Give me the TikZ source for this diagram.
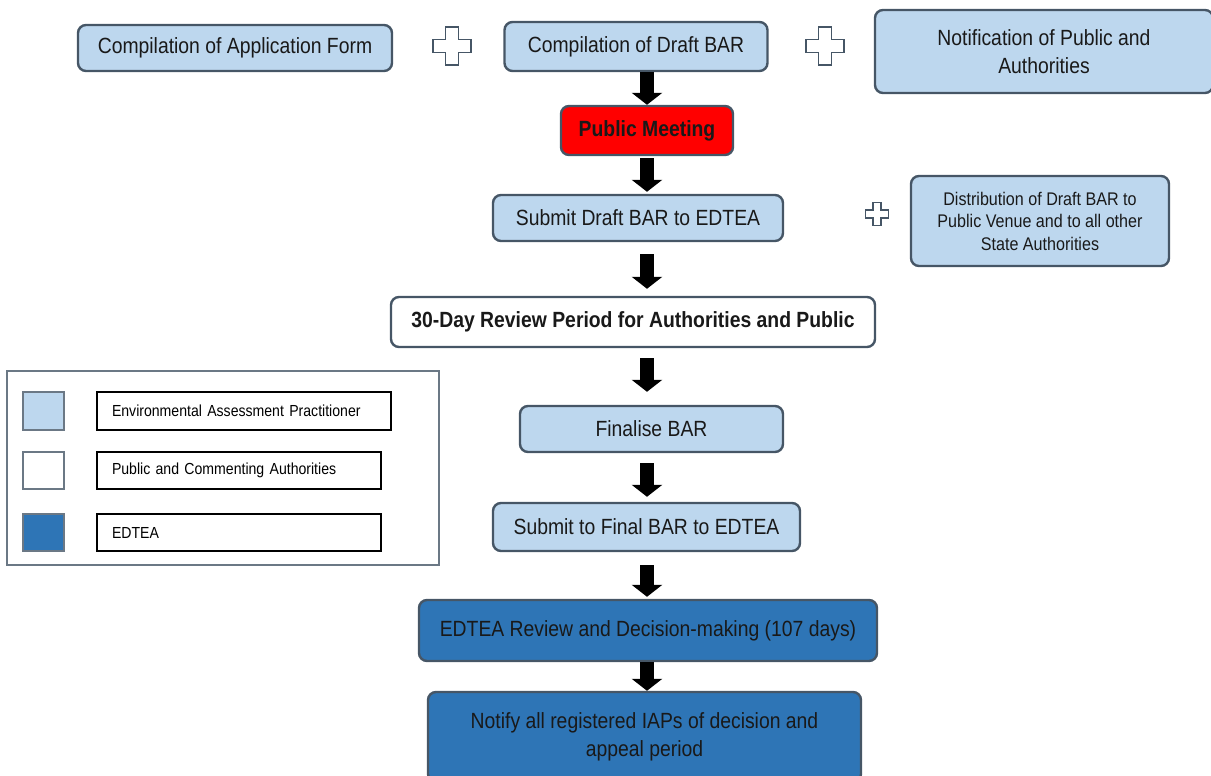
\documentclass[tikz,border=0pt]{standalone}
\usepackage{fontspec}
\setmainfont{Liberation Sans}[FakeStretch=0.88]
\usetikzlibrary{arrows.meta}
\definecolor{eapblue}{HTML}{BDD7EE}
\definecolor{edteablue}{HTML}{2E75B6}
\definecolor{boxline}{HTML}{465666}
\definecolor{meetred}{HTML}{FF0000}
\begin{document}
\begin{tikzpicture}[x=1pt, y=-1pt,
  stage/.style={draw=boxline, line width=2.4pt, rounded corners=8pt, fill=eapblue,
    inner sep=0pt, align=center, text=black!90, font=\fontsize{22}{28}\selectfont},
  keybox/.style={draw=black, line width=1.4pt, inner xsep=15pt, inner ysep=0pt,
    align=left, font=\fontsize{16}{18}\selectfont},
  swatch/.style={draw=boxline!80, line width=1.4pt, minimum width=41pt, minimum height=37pt, inner sep=0pt},
  blockarrow/.style={draw=black, line width=14pt, -{Triangle[width=30pt,length=12pt]}},
  crosssign/.pic={
    \draw[boxline, line width=1.5pt] (-6.5,-19) -- (6.5,-19) -- (6.5,-6.5) -- (19,-6.5)
      -- (19,6.5) -- (6.5,6.5) -- (6.5,19) -- (-6.5,19) -- (-6.5,6.5) -- (-19,6.5)
      -- (-19,-6.5) -- (-6.5,-6.5) -- cycle;
  }]
\useasboundingbox (0,0) rectangle (1211,776);
% top row
\node[stage, minimum width=314pt, minimum height=46pt] (appform) at (235,48) {Compilation of Application Form};
\node[stage, minimum width=263pt, minimum height=49pt] (draft) at (636,46.5) {Compilation of Draft BAR};
\node[stage, minimum width=338pt, minimum height=83pt] (notif) at (1044,51.5) {Notification of Public and\\Authorities};
\pic at (452,46) {crosssign};
\pic at (825,46) {crosssign};
% main column
\node[stage, fill=meetred, minimum width=172pt, minimum height=49pt, font=\fontsize{22}{28}\selectfont\bfseries] (meeting) at (647,130.5) {Public Meeting};
\node[stage, minimum width=290pt, minimum height=46pt] (submit) at (638,218) {Submit Draft BAR to EDTEA};
\node[stage, minimum width=258pt, minimum height=90pt, font=\fontsize{18.3}{22.5}\selectfont] (distrib) at (1040,221) {Distribution of Draft BAR to\\Public Venue and to all other\\State Authorities};
\pic[scale=0.6] at (877,214) {crosssign};
\node[stage, fill=white, minimum width=484pt, minimum height=50pt, font=\fontsize{22}{28}\selectfont\bfseries] (review) at (633,322) {30-Day Review Period for Authorities and Public};
\node[stage, minimum width=263pt, minimum height=46pt] (finalise) at (651.5,429) {Finalise BAR};
\node[stage, minimum width=307pt, minimum height=48pt] (final) at (646.5,527) {Submit to Final BAR to EDTEA};
\node[stage, fill=edteablue, minimum width=458pt, minimum height=61pt] (edtea) at (648,630.5) {EDTEA Review and Decision-making (107 days)};
\node[stage, fill=edteablue, minimum width=433pt, minimum height=90pt] (notify) at (644.5,737) {Notify all registered IAPs of decision and\\appeal period};
% legend
\node[draw=boxline!80, line width=1.4pt, minimum width=432pt, minimum height=194pt] (legend) at (223,468) {};
\node[swatch, fill=eapblue, minimum height=38pt] (swatcheap) at (43.5,411) {};
\node[swatch, fill=white] (swatchpub) at (43.5,470.5) {};
\node[swatch, fill=edteablue] (swatchedtea) at (43.5,532.5) {};
\node[keybox, text width=264pt, minimum height=38pt] (keyeap) at (244,411) {Environmental Assessment Practitioner};
\node[keybox, text width=254pt, minimum height=37pt] (keypub) at (239,470.5) {Public and Commenting Authorities};
\node[keybox, text width=254pt, minimum height=37pt] (keyedtea) at (239,532.5) {EDTEA};
% arrows
\coordinate (axis) at (647,0);
\foreach \a/\b/\s/\e in {draft/meeting/0/0, meeting/submit/2/2, submit/review/12/7,
    review/finalise/10/13, finalise/final/10/5, final/edtea/13/2, edtea/notify/0/0}{
  \draw[blockarrow, shorten <=\s pt, shorten >=\e pt] (\a.south -| axis) -- (\b.north -| axis);
}
\end{tikzpicture}
\end{document}
